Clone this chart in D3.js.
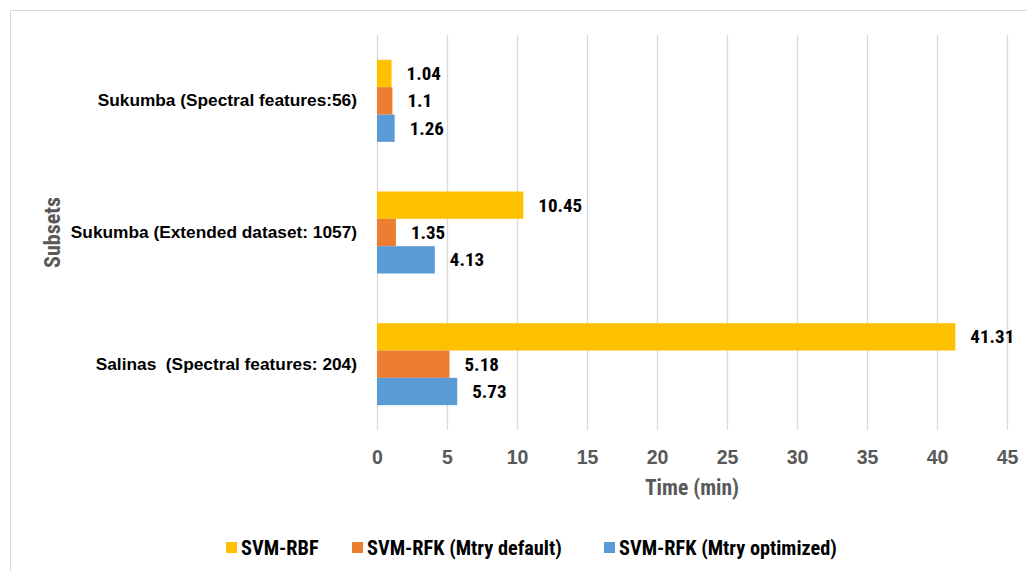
<!DOCTYPE html>
<html>
<head>
<meta charset="utf-8">
<script src="https://cdn.jsdelivr.net/npm/d3@7"></script>
<style>
  html, body { margin: 0; padding: 0; background: #fff; }
  svg { display: block; }
  text { font-family: "Liberation Sans Narrow", "Roboto Condensed", "Liberation Sans", Arial, sans-serif; font-weight: bold; white-space: pre; }
</style>
</head>
<body>
<svg id="chart" width="1027" height="571"></svg>
<script>
const categories = [
  "Sukumba (Spectral features:56)",
  "Sukumba (Extended dataset: 1057)",
  "Salinas  (Spectral features: 204)"
];
const seriesNames = ["SVM-RBF", "SVM-RFK (Mtry default)", "SVM-RFK (Mtry optimized)"];
const svmRbf = [1.04, 10.45, 41.31];
const rfkDefault = [1.1, 1.35, 5.18];
const rfkOptimized = [1.26, 4.13, 5.73];
const xTicks = [0, 5, 10, 15, 20, 25, 30, 35, 40, 45];
const colors = ["#FFC000", "#ED7D31", "#5B9BD5"];
const seriesValues = [svmRbf, rfkDefault, rfkOptimized];

const svg = d3.select("#chart");

// outer border (Excel chart area)
svg.append("rect")
  .attr("x", 10.5).attr("y", 10.5)
  .attr("width", 1040).attr("height", 600)
  .attr("fill", "none").attr("stroke", "#D9D9D9").attr("stroke-width", 1);

const plot = { left: 377, right: 1007, top: 35, bottom: 430 };

const x = d3.scaleLinear().domain([0, 45]).range([plot.left, plot.right]);
const y = d3.scaleBand().domain(categories).range([plot.top, plot.bottom])
  .paddingInner(0.377).paddingOuter(0.377 / 2);
const ySub = d3.scaleBand().domain(d3.range(3)).range([0, y.bandwidth()]);

// gridlines
svg.append("g").selectAll("line").data(xTicks).join("line")
  .attr("x1", d => Math.round(x(d)) + 0.5).attr("x2", d => Math.round(x(d)) + 0.5)
  .attr("y1", plot.top).attr("y2", plot.bottom)
  .attr("stroke", "#D9D9D9").attr("stroke-width", 1.3);

// x axis tick labels
const xAxis = d3.axisBottom(x).tickValues(xTicks).tickSize(0).tickPadding(0);
const gx = svg.append("g").attr("transform", `translate(0, ${plot.bottom + 34})`).call(xAxis);
gx.select(".domain").remove();
gx.selectAll("text").attr("fill", "#595959").attr("font-size", 19.5).attr("dy", 0)
  .style("font-family", "'Liberation Sans Narrow', 'Liberation Sans', Arial, sans-serif");

// y axis category labels
const yAxis = d3.axisLeft(y).tickSize(0).tickPadding(20);
const gy = svg.append("g").attr("transform", `translate(${plot.left}, 0)`).call(yAxis);
gy.select(".domain").remove();
gy.selectAll("text").attr("fill", "#000").attr("font-size", 17.3)
  .style("font-family", "'Liberation Sans Narrow', 'Liberation Sans', Arial, sans-serif")
  .style("white-space", "pre");

// bars
const rows = [];
categories.forEach((c, i) => {
  seriesValues.forEach((vals, s) => rows.push({ cat: c, s, v: vals[i] }));
});
svg.append("g").selectAll("rect").data(rows).join("rect")
  .attr("x", x(0))
  .attr("y", d => y(d.cat) + ySub(d.s))
  .attr("width", d => x(d.v) - x(0))
  .attr("height", ySub.bandwidth())
  .attr("fill", d => colors[d.s]);

// value labels
svg.append("g").selectAll("text").data(rows).join("text")
  .attr("x", d => x(d.v) + 15)
  .attr("y", d => y(d.cat) + ySub(d.s) + ySub.bandwidth() / 2)
  .attr("dy", "0.35em")
  .attr("font-size", 19).attr("fill", "#000")
  .text(d => d.v);

// axis titles
svg.append("text")
  .attr("x", (plot.left + plot.right) / 2).attr("y", 495)
  .attr("text-anchor", "middle").attr("font-size", 21.5).attr("fill", "#595959")
  .text("Time (min)");
svg.append("text")
  .attr("transform", `translate(60, ${(plot.top + plot.bottom) / 2}) rotate(-90)`)
  .attr("text-anchor", "middle").attr("font-size", 22).attr("fill", "#595959")
  .text("Subsets");

// legend
const legendX = [226, 352, 604];
const lg = svg.append("g").selectAll("g").data(seriesNames).join("g")
  .attr("transform", (d, i) => `translate(${legendX[i]}, 542)`);
lg.append("rect").attr("width", 11).attr("height", 11).attr("fill", (d, i) => colors[i]);
lg.append("text").attr("x", 15).attr("y", 5.5).attr("dy", "0.36em")
  .attr("font-size", 20.3).attr("fill", "#000").text(d => d);
</script>
</body>
</html>
